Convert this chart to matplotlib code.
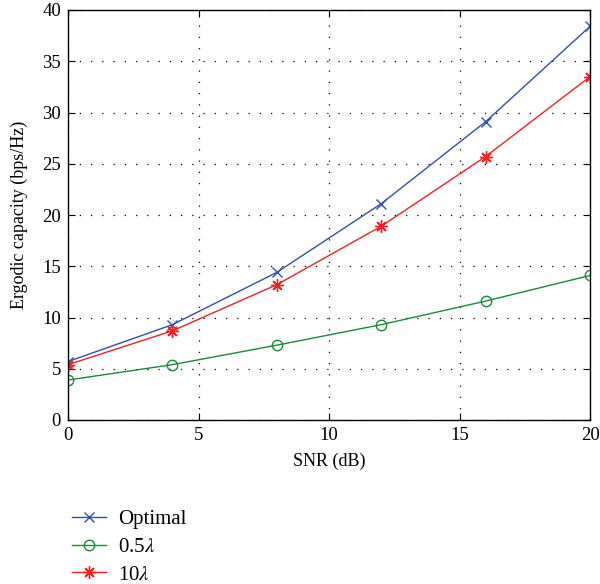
import matplotlib
matplotlib.use("Agg")
import matplotlib.pyplot as plt

snr = [0, 4, 8, 12, 16, 20]
optimal = [5.7, 9.3, 14.4, 21.1, 29.1, 38.4]
half_lambda = [3.9, 5.4, 7.3, 9.3, 11.6, 14.1]
ten_lambda = [5.4, 8.7, 13.2, 18.9, 25.7, 33.5]
labels = ["Optimal", "0.5$\\lambda$", "10$\\lambda$"]

plt.rcParams['font.family'] = ['Liberation Serif', 'DejaVu Serif']
plt.rcParams['mathtext.fontset'] = 'stix'

fig = plt.figure(figsize=(6, 5.84), dpi=100)
ax = fig.add_axes([68/600, 1-420/584, (590-68)/600, (420-10)/584])

c_blue = '#3050b0'
c_green = '#1a8a3a'
c_red = '#ee2222'

l1, = ax.plot(snr, optimal, color=c_blue, lw=1, marker='x', ms=6.5, mew=1, label=labels[0])
l2, = ax.plot(snr, half_lambda, color=c_green, lw=1, marker='o', ms=7.5, mfc='none', mew=1, label=labels[1])
l3, = ax.plot(snr, ten_lambda, color=c_red, lw=1, marker=(8, 2, 0), ms=9, mew=1, label=labels[2])

ax.set_xlim(0, 20)
ax.set_ylim(0, 40)
ax.set_xticks([0, 5, 10, 15, 20])
ax.set_yticks(range(0, 41, 5))
ax.grid(True, color='black', linestyle=(0, (1, 8)), linewidth=0.9)
ax.tick_params(direction='in', top=True, right=True, labelsize=13.5, length=5, pad=5)
for s in ax.spines.values():
    s.set_linewidth(1)
ax.set_xlabel('SNR (dB)', fontsize=13, labelpad=6)
ax.set_ylabel('Ergodic capacity (bps/Hz)', fontsize=13, labelpad=10)

fig.legend(handles=[l1, l2, l3], loc='upper left', bbox_to_anchor=(64/600, 1-501/584),
           frameon=False, fontsize=15, handlelength=1.6, labelspacing=0.4,
           handletextpad=0.6, borderaxespad=0)

fig.savefig('out.png', dpi=100)
